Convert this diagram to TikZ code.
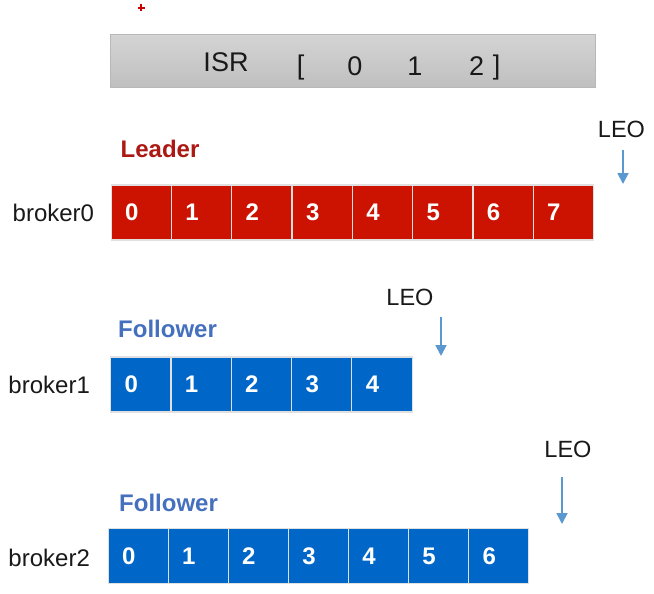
\documentclass[tikz,border=0pt]{standalone}
\usepackage{fontspec}
\setmainfont{Liberation Sans}
\usetikzlibrary{arrows.meta}
\definecolor{cellred}{RGB}{204,18,0}
\definecolor{cellblue}{RGB}{0,102,200}
\definecolor{leadred}{RGB}{172,24,20}
\definecolor{follblue}{RGB}{68,112,190}
\definecolor{arrblue}{RGB}{91,152,208}
\definecolor{txt}{RGB}{25,25,25}
\tikzset{
  cellbox/.style={rectangle, minimum height=55pt, inner xsep=14pt, inner ysep=0pt,
    text width=32.3pt, align=left, draw=white!88!black, line width=1.2pt,
    text=white, font=\fontsize{24}{28}\selectfont\bfseries, anchor=west},
  redcell/.style={cellbox, fill=cellred},
  bluecell/.style={cellbox, fill=cellblue},
  brokerlbl/.style={anchor=west, inner sep=0pt, text=txt, font=\fontsize{24}{28}\selectfont},
  rolelbl/.style={anchor=west, inner sep=0pt, font=\fontsize{24}{28}\selectfont\bfseries},
  leolbl/.style={inner sep=0pt, text=txt, font=\fontsize{23.5}{28}\selectfont},
  leoarrow/.style={draw=arrblue, line width=1.8pt, -{Triangle[width=11pt,length=11pt]}},
  isrtxt/.style={inner sep=0pt, anchor=base, text=txt, font=\fontsize{27}{30}\selectfont}
}
\begin{document}
\begin{tikzpicture}[x=1pt,y=-1pt]
\useasboundingbox (0,0) rectangle (654,594);
\fill[white] (0,0) rectangle (654,594);

% small red cross (cursor)
\draw[red!80!black, line width=1.2pt] (137.5,8) -- (144.5,8) (141,4.5) -- (141,11.5);

% ISR box
\node[rectangle, draw=black!28, line width=1pt, top color=black!17, bottom color=black!25,
      minimum width=485pt, minimum height=53pt, inner sep=0pt] (isr) at (352.5,61.5) {};
\node[isrtxt] (isrname) at (226,72) {ISR};
\node[isrtxt] (isrlb) at (300.7,75) {[};
\node[isrtxt] (isr0) at (355,76) {0};
\node[isrtxt] (isr1) at (415,76) {1};
\node[isrtxt] (isr2) at (476.7,76) {2};
\node[isrtxt] (isrrb) at (496.7,75) {]};

% Leader row
\node[rolelbl, text=leadred] (leader) at (120.5,149) {Leader};
\node[brokerlbl] (b0) at (12.5,212.5) {broker0};
\foreach \i in {0,...,7} {
  \node[redcell, minimum width=60.3pt] (l\i) at ({110.5+60.3*\i},212.5) {\i};
}
\node[leolbl] (leo0) at (621.5,129) {LEO};
\coordinate (a0s) at (623,150);
\coordinate (a0e) at (623,184);
\draw[leoarrow] (a0s) -- (a0e);

% Follower broker1
\node[rolelbl, text=follblue] (f1) at (118,329) {Follower};
\node[brokerlbl] (b1) at (8.3,385) {broker1};
\foreach \i in {0,...,4} {
  \node[bluecell, minimum width=60.3pt] (m\i) at ({110+60.3*\i},384.5) {\i};
}
\node[leolbl] (leo1) at (410,297) {LEO};
\coordinate (a1s) at (441,317);
\coordinate (a1e) at (441,356);
\draw[leoarrow] (a1s) -- (a1e);

% Follower broker2
\node[rolelbl, text=follblue] (f2) at (119,503) {Follower};
\node[brokerlbl] (b2) at (8.3,558) {broker2};
\foreach \i in {0,...,6} {
  \node[bluecell, minimum width=60.1pt, text width=32.1pt] (n\i) at ({107.5+60.07*\i},556) {\i};
}
\node[leolbl] (leo2) at (568,449) {LEO};
\coordinate (a2s) at (562,477);
\coordinate (a2e) at (562,524);
\draw[leoarrow] (a2s) -- (a2e);
\end{tikzpicture}
\end{document}
